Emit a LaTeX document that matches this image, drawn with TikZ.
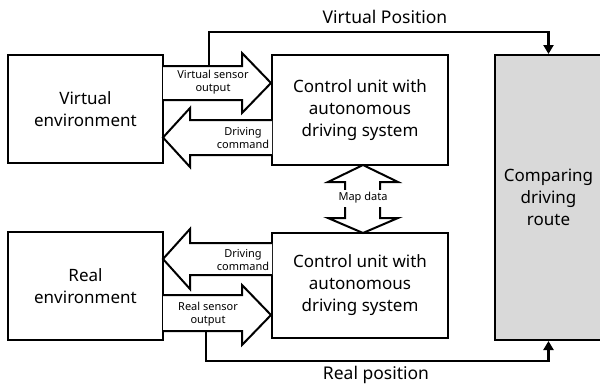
\documentclass[tikz,border=0pt]{standalone}
\usepackage{fontspec}
\setmainfont{Noto Sans}
\usetikzlibrary{arrows.meta,calc}
\begin{document}
\begin{tikzpicture}[x=1pt,y=-1pt,
  box/.style={draw, line width=2pt, align=center, inner sep=0pt,
    font=\fontsize{17}{22}\selectfont},
  blockarrow/.style={draw, fill=white, line width=2pt, line join=miter},
  small/.style={align=center, inner sep=1pt, font=\fontsize{11}{13.5}\selectfont},
  conn/.style={line width=2.5pt, -{Triangle[length=9pt,width=10pt]}},
  lbl/.style={font=\fontsize{17.5}{20}\selectfont}]
\useasboundingbox (0,0) rectangle (600,386);

% main boxes
\node[box, minimum width=155pt, minimum height=108pt] (venv) at (85.5,109) {Virtual\\environment};
\node[box, minimum width=155pt, minimum height=108pt] (renv) at (85.5,286) {Real\\environment};
\node[box, minimum width=176pt, minimum height=110pt] (cu1) at (360,110) {Control unit with\\autonomous\\driving system};
\node[box, minimum width=176pt, minimum height=105pt] (cu2) at (360,285.5) {Control unit with\\autonomous\\driving system};
\node[box, fill=black!15, minimum width=107pt, minimum height=285pt] (cmp) at (548.5,197.5) {Comparing\\driving\\route};

% block arrows (upper)
\draw[blockarrow] (163,66) -- (242,66) -- (242,53) -- (271,83) -- (242,113) -- (242,100) -- (163,100);
\node[small] (vso) at (213,82) {Virtual sensor\\output};
\draw[blockarrow] (272,120) -- (190,120) -- (190,108) -- (163,137.5) -- (190,167) -- (190,155) -- (272,155);
\node[small] (dc1) at (243,138) {Driving\\command};

% block arrows (lower)
\draw[blockarrow] (272,243) -- (190,243) -- (190,229) -- (163,259) -- (190,289) -- (190,275) -- (272,275);
\node[small] (dc2) at (243,260) {Driving\\command};
\draw[blockarrow] (163,295) -- (242,295) -- (242,285) -- (271,315) -- (242,345) -- (242,331) -- (163,331);
\node[small] (rso) at (208,314) {Real sensor\\output};

% map data double arrow
\draw[blockarrow] (363,165) -- (398,182) -- (380,182) -- (380,218) -- (398,218) -- (363,233)
  -- (328,218) -- (345,218) -- (345,182) -- (328,182) -- cycle;
\node[small, fill=white, inner ysep=3pt] (map) at (363,198) {Map data};

% position lines
\coordinate (vp) at (209,66);
\coordinate (rp) at (206,331);
\draw[conn] (vp) -- ++(0,-34) -| (cmp.north);
\draw[conn] (rp) -- ++(0,30) -| (cmp.south);
\node[lbl] (vpl) at (385,17) {Virtual Position};
\node[lbl] (rpl) at (376,375) {Real position};
\end{tikzpicture}
\end{document}
